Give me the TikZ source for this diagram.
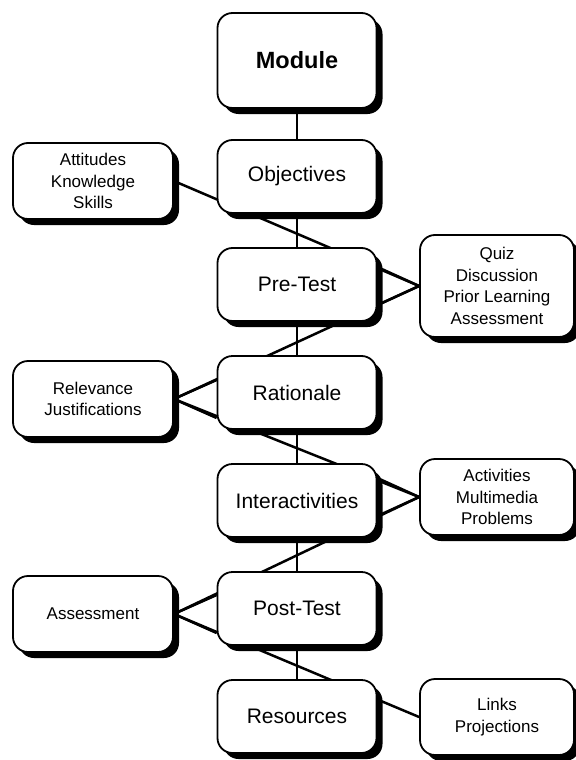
\documentclass[tikz,border=0pt]{standalone}
\usepackage{fontspec}
\setmainfont{Liberation Sans}
\usetikzlibrary{calc,shadows,backgrounds}
\tikzset{
	box/.style={draw, fill=white, line width=1.8bp, rounded corners=15bp, align=center, inner sep=0pt,
		drop shadow={shadow xshift=6bp, shadow yshift=-6bp, opacity=1, fill=black}},
	mainbox/.style={box, minimum width=159bp, minimum height=73bp, font=\fontsize{21bp}{25bp}\selectfont},
	sidebox/.style={box, minimum height=76bp, font=\fontsize{17bp}{21.5bp}\selectfont},
	link/.style={line width=2.5bp},
	spine/.style={line width=1.2bp}
}
\begin{document}
\begin{tikzpicture}[x=1bp, y=-1bp]
			%%%%% START %%%%%
			
			\useasboundingbox (0, 0) rectangle (576, 760);
			
			\node[mainbox, minimum height=95bp, font=\fontsize{23.5bp}{28bp}\selectfont\bfseries] (mod) at (297, 60.5) {Module};
			\node[mainbox] (obj) at (297, 176.5) {Objectives};
			\node[mainbox] (pre) at (297, 284.5) {Pre-Test};
			\node[mainbox] (rat) at (297, 392.5) {Rationale};
			\node[mainbox] (int) at (297, 500.5) {Interactivities};
			\node[mainbox] (pst) at (297, 608.5) {Post-Test};
			\node[mainbox] (res) at (297, 716.5) {Resources};
			
			\node[sidebox, minimum width=160bp] (att) at (93, 181) {Attitudes\\Knowledge\\Skills};
			\node[sidebox, minimum width=160bp] (rel) at (93, 399) {Relevance\\Justifications};
			\node[sidebox, minimum width=160bp] (ass) at (93, 614) {Assessment};
			
			\node[sidebox, minimum width=154bp, minimum height=102bp] (quiz) at (497, 286) {Quiz\\Discussion\\Prior Learning\\Assessment};
			\node[sidebox, minimum width=154bp] (act) at (497, 497) {Activities\\Multimedia\\Problems};
			\node[sidebox, minimum width=154bp] (lnk) at (497, 717) {Links\\Projections};
			
			\begin{scope}[on background layer]
				\draw[spine] (mod) -- (res);
				\draw[link] (att.east) -- (quiz.west) -- (rel.east) -- (act.west) -- (ass.east) -- (lnk.west);
				
				\draw[link] ($(pre.east |- quiz.west)+(0, -19)$) -- (quiz.west) -- ($(pre.east |- quiz.west)+(0, 19)$);
				\draw[link] ($(rat.west |- rel.east)+(0, -19)$) -- (rel.east) -- ($(rat.west |- rel.east)+(0, 19)$);
				\draw[link] ($(int.east |- act.west)+(0, -19)$) -- (act.west) -- ($(int.east |- act.west)+(0, 19)$);
				\draw[link] ($(pst.west |- ass.east)+(0, -19)$) -- (ass.east) -- ($(pst.west |- ass.east)+(0, 19)$);
			\end{scope}
			
			%%%%% END %%%%%
\end{tikzpicture}
\end{document}
